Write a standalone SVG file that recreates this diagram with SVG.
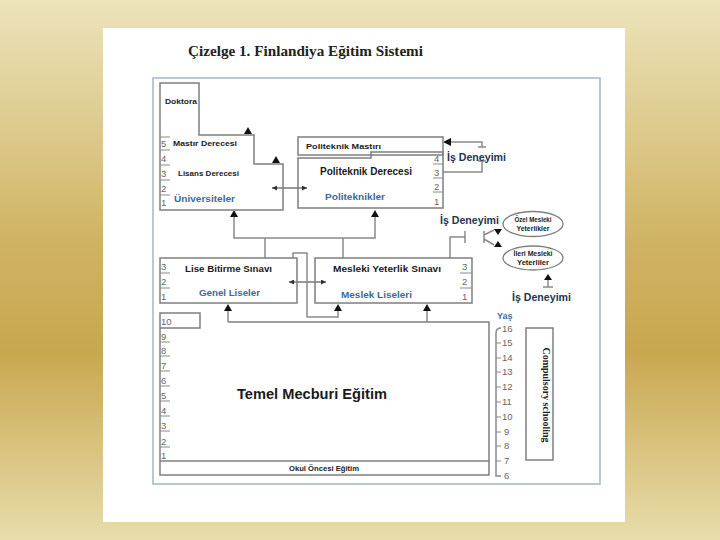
<svg xmlns="http://www.w3.org/2000/svg" width="720" height="540" viewBox="0 0 720 540">
<defs>
<linearGradient id="bg" x1="0" y1="0" x2="0" y2="1">
<stop offset="0" stop-color="#ece4bb"/>
<stop offset="0.45" stop-color="#cfb363"/>
<stop offset="0.65" stop-color="#c9a74f"/>
<stop offset="1" stop-color="#e8ddab"/>
</linearGradient>
<marker id="ah" viewBox="0 0 6 6" refX="6" refY="3" markerWidth="5" markerHeight="5" orient="auto-start-reverse"><path d="M0,0 L6,3 L0,6 Z" fill="#333"/></marker>
</defs>
<style>
.box{fill:none;stroke:#7f7f7f;stroke-width:1.5}
.ln{fill:none;stroke:#8a8a8a;stroke-width:1.5}
.sep{stroke:#8a8a8a;stroke-width:1}
.tri{fill:#111}
.lb{font-family:"Liberation Sans",Arial,sans-serif;font-weight:bold;fill:#1a1a1a}
.bl{font-family:"Liberation Sans",Arial,sans-serif;font-weight:bold;fill:#3c6a9c}
.nv{font-family:"Liberation Sans",Arial,sans-serif;font-weight:bold;fill:#1e3550}
.num{font-family:"Liberation Sans",Arial,sans-serif;font-size:9.5px;fill:#666}
</style>
<rect x="0" y="0" width="720" height="540" fill="url(#bg)"/>
<rect x="103" y="28" width="522" height="494" fill="#ffffff"/>
<text x="188" y="56" font-family="Liberation Serif,serif" font-weight="bold" font-size="14" fill="#222" textLength="235" lengthAdjust="spacingAndGlyphs">Çizelge 1. Finlandiya Eğitim Sistemi</text>
<rect x="153" y="78" width="447" height="406" fill="none" stroke="#a4b6c6" stroke-width="1.5"/>

<g id="connectors">
<line x1="272" y1="188" x2="307" y2="188" stroke="#333" stroke-width="1" marker-start="url(#ah)" marker-end="url(#ah)"/>
<path class="ln" d="M234,216 V238 H375 V216"/>
<path class="ln" d="M265,238 V258 M343,238 V258"/>
<polygon class="tri" points="234,210 230,217 238,217"/>
<polygon class="tri" points="375,210 371,217 379,217"/>
<line x1="289" y1="282" x2="326" y2="282" stroke="#333" stroke-width="1" marker-start="url(#ah)" marker-end="url(#ah)"/>
<path class="ln" d="M293,258 V253 H307 V317 H338 V310"/>
<polygon class="tri" points="338,304 334,311 342,311"/>
<path class="ln" d="M228,322 V310 M427,322 V310"/>
<polygon class="tri" points="228,304 224,311 232,311"/>
<polygon class="tri" points="427,304 423,311 431,311"/>
<polygon class="tri" points="248,127 244,134 252,134"/>
<polygon class="tri" points="276,156 272,163 280,163"/>
<path class="ln" d="M449,142 H482 V147 M478,147 H486 M478,161 H486 M482,161 V172 H443"/>
<polygon class="tri" points="443,142 451,138 451,146"/>
<path class="ln" d="M450,258 V237 H465 M465,231 V243"/>
<path class="ln" d="M484,231 V243 M484,235 L494,230 M484,239 L494,245"/>
<polygon class="tri" points="498,235 494,229 502,229"/>
<polygon class="tri" points="498,241 494,247 502,247"/>
<polygon class="tri" points="548,274 544,280 552,280"/>
<path class="ln" d="M548,280 V287 M543,287 H553"/>
</g>

<g id="universiteler">
<path class="box" d="M160,83 H199 V135 H254 V164 H283 V210 H160 Z"/>
<text class="lb" x="165" y="104" font-size="8" textLength="32" lengthAdjust="spacingAndGlyphs">Doktora</text>
<path class="sep" d="M160,137 H170 M160,150 H170 M160,165 H170 M160,180 H170 M160,195 H170"/>
<text class="num" x="161" y="147">5</text>
<text class="num" x="161" y="162">4</text>
<text class="num" x="161" y="177">3</text>
<text class="num" x="161" y="192">2</text>
<text class="num" x="161" y="206">1</text>
<text class="lb" x="173" y="146" font-size="8" textLength="64" lengthAdjust="spacingAndGlyphs">Mastır Derecesi</text>
<text class="lb" x="178" y="176" font-size="8" textLength="61" lengthAdjust="spacingAndGlyphs">Lisans Derecesi</text>
<text class="bl" x="174" y="202" font-size="9.5" textLength="61" lengthAdjust="spacingAndGlyphs">Üniversiteler</text>
</g>

<g id="politeknikler">
<rect class="box" x="298" y="137" width="145" height="18"/>
<text class="lb" x="306" y="149" font-size="8" textLength="75" lengthAdjust="spacingAndGlyphs">Politeknik Mastırı</text>
<path class="box" d="M298,158 H371 V152 H443 V208 H298 Z"/>
<path class="sep" d="M433,164 H443 M433,178 H443 M433,192 H443"/>
<text class="num" x="434" y="162">4</text>
<text class="num" x="434" y="176">3</text>
<text class="num" x="434" y="190">2</text>
<text class="num" x="434" y="205">1</text>
<text class="lb" x="320" y="175" font-size="10" textLength="92" lengthAdjust="spacingAndGlyphs">Politeknik Derecesi</text>
<text class="bl" x="325" y="200" font-size="9.5" textLength="60" lengthAdjust="spacingAndGlyphs">Politeknikler</text>
<text class="nv" x="447" y="161" font-size="10" textLength="59" lengthAdjust="spacingAndGlyphs">İş Deneyimi</text>
</g>

<g id="genel-liseler">
<rect class="box" x="160" y="258" width="137" height="45"/>
<path class="sep" d="M160,273 H170 M160,288 H170"/>
<text class="num" x="161" y="270">3</text>
<text class="num" x="161" y="285">2</text>
<text class="num" x="161" y="300">1</text>
<text class="lb" x="185" y="272" font-size="9" textLength="87" lengthAdjust="spacingAndGlyphs">Lise Bitirme Sınavı</text>
<text class="bl" x="199" y="296" font-size="9.5" textLength="61" lengthAdjust="spacingAndGlyphs">Genel Liseler</text>
</g>

<g id="meslek-liseleri">
<rect class="box" x="315" y="258" width="157" height="45"/>
<path class="sep" d="M460,273 H472 M460,288 H472"/>
<text class="num" x="462" y="270">3</text>
<text class="num" x="462" y="285">2</text>
<text class="num" x="462" y="300">1</text>
<text class="lb" x="333" y="272" font-size="9" textLength="108" lengthAdjust="spacingAndGlyphs">Mesleki Yeterlik Sınavı</text>
<text class="bl" x="341" y="298" font-size="9.5" textLength="71" lengthAdjust="spacingAndGlyphs">Meslek Liseleri</text>
</g>

<g id="is-deneyimi-sag">
<text class="nv" x="440" y="224" font-size="10" textLength="59" lengthAdjust="spacingAndGlyphs">İş Deneyimi</text>
<text class="nv" x="512" y="301" font-size="10" textLength="59" lengthAdjust="spacingAndGlyphs">İş Deneyimi</text>
</g>

<g id="ozel-mesleki">
<ellipse cx="533" cy="224" rx="30" ry="12.5" fill="none" stroke="#7f7f7f" stroke-width="1.3"/>
<text class="lb" x="533" y="222" font-size="7" text-anchor="middle" textLength="37" lengthAdjust="spacingAndGlyphs">Özel Mesleki</text>
<text class="lb" x="533" y="231" font-size="7" text-anchor="middle" textLength="33" lengthAdjust="spacingAndGlyphs">Yeterlikler</text>
</g>
<g id="ileri-mesleki">
<ellipse cx="533" cy="258" rx="30" ry="12" fill="none" stroke="#7f7f7f" stroke-width="1.3"/>
<text class="lb" x="533" y="256" font-size="7" text-anchor="middle" textLength="39" lengthAdjust="spacingAndGlyphs">İleri Mesleki</text>
<text class="lb" x="533" y="265" font-size="7" text-anchor="middle" textLength="32" lengthAdjust="spacingAndGlyphs">Yeterliler</text>
</g>

<g id="temel-mecburi">
<path class="box" d="M228,322 H489 V475 H160 V313 H200 V328 H160"/>
<text class="num" x="161" y="325">10</text>
<path class="sep" d="M160,342 H170 M160,356 H170 M160,371 H170 M160,386 H170 M160,401 H170 M160,416 H170 M160,431 H170 M160,447 H170"/>
<text class="num" x="161" y="340">9</text>
<text class="num" x="161" y="354">8</text>
<text class="num" x="161" y="369">7</text>
<text class="num" x="161" y="384">6</text>
<text class="num" x="161" y="399">5</text>
<text class="num" x="161" y="414">4</text>
<text class="num" x="161" y="429">3</text>
<text class="num" x="161" y="445">2</text>
<text class="num" x="161" y="459">1</text>
<text class="lb" x="237" y="399" font-size="14" textLength="150" lengthAdjust="spacingAndGlyphs">Temel Mecburi Eğitim</text>
</g>

<g id="okul-oncesi">
<line class="box" x1="160" y1="461" x2="489" y2="461"/>
<text class="lb" x="324" y="471" font-size="8" text-anchor="middle" textLength="70" lengthAdjust="spacingAndGlyphs">Okul Öncesi Eğitim</text>
</g>

<g id="yas-skala">
<text class="bl" x="497" y="319" font-size="9">Yaş</text>
<path class="ln" d="M501,328 Q496,328 496,333 V476 H501"/>
<path class="sep" d="M496,343 H501 M496,358 H501 M496,372 H501 M496,387 H501 M496,402 H501 M496,417 H501 M496,432 H501 M496,446 H501 M496,461 H501"/>
<g class="num">
<text x="502" y="332">16</text>
<text x="502" y="346">15</text>
<text x="502" y="361">14</text>
<text x="502" y="375">13</text>
<text x="502" y="390">12</text>
<text x="502" y="405">11</text>
<text x="502" y="420">10</text>
<text x="504" y="435">9</text>
<text x="504" y="449">8</text>
<text x="504" y="464">7</text>
<text x="504" y="479">6</text>
</g>
</g>

<g id="compulsory">
<rect class="box" x="526" y="328" width="27" height="132"/>
<text x="540" y="395" font-family="Liberation Serif,serif" font-weight="bold" font-size="10.5" fill="#222" text-anchor="middle" transform="rotate(90 540 395)" dy="-3" textLength="95" lengthAdjust="spacingAndGlyphs">Compulsory schooling</text>
</g>
</svg>
